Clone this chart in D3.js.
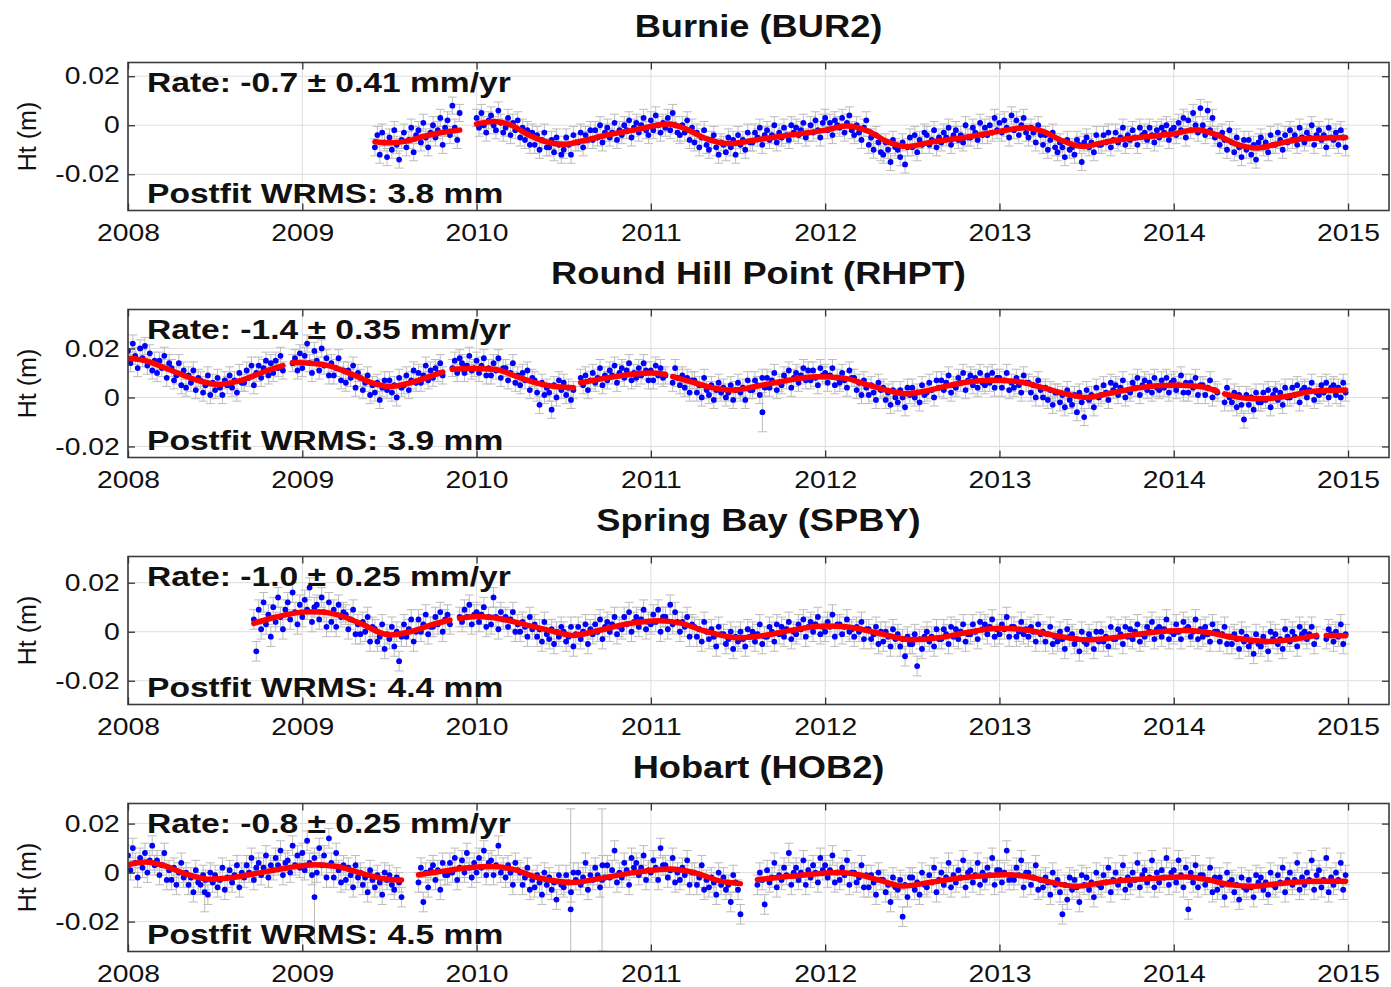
<!DOCTYPE html>
<html>
<head>
<meta charset="utf-8">
<script src="https://cdn.jsdelivr.net/npm/d3@7"></script>
<style>
  body { margin: 0; background: #fff; }
  svg text { font-family: "Liberation Sans", Arial, Helvetica, sans-serif; fill: #111; }
</style>
</head>
<body>
<svg id="chart" width="1391" height="987"></svg>
<script>
// ---- labels / ticks ----
const stationNames = ["Burnie (BUR2)", "Round Hill Point (RHPT)", "Spring Bay (SPBY)", "Hobart (HOB2)"];
const rateLabels = ["Rate: -0.7 \u00b1 0.41 mm/yr", "Rate: -1.4 \u00b1 0.35 mm/yr", "Rate: -1.0 \u00b1 0.25 mm/yr", "Rate: -0.8 \u00b1 0.25 mm/yr"];
const wrmsLabels = ["Postfit WRMS: 3.8 mm", "Postfit WRMS: 3.9 mm", "Postfit WRMS: 4.4 mm", "Postfit WRMS: 4.5 mm"];
const yearTicks = [2008, 2009, 2010, 2011, 2012, 2013, 2014, 2015];
const htTicks = [0.02, 0, -0.02];
const yearRange = [2008, 2015.235];
const htDomains = [[-0.0348, 0.0256], [-0.0245, 0.0359], [-0.0297, 0.0307], [-0.0322, 0.0282]];
const sigmaMm = [3.5, 3.5, 4, 4];   // typical height sigma (mm)

// ---- height residuals, mm, one value every 1/72 yr (6 per month) ----
const sampleStep = 1 / 72;

const bur2Start = 2009 + 5 / 12;
const bur2Ht = [
  // 2009 Jun-Dec
  -9,-4,-12,-3,-7,-13, -5,-10,-2,-8,-14,-6, -3,-9,-6,-1,-11,-4, -2,-7,1,-5,-9,-3, 0,-5,-2,3,-8,-1, 2,-4,8,-1,-6,5, null,null,null,null,null,null,
  // 2010
  3,-1,5,0,-3,2, 4,0,-2,6,1,-3, -1,3,-4,1,-2,2, -5,-1,-6,-2,-8,-3, -8,-4,-10,-6,-3,-9, -9,-6,-11,-5,-8,-12, -10,-5,-8,-12,-4,-7, -7,-3,-9,-4,-6,-2, -6,-2,-5,0,-7,-3, -1,-5,-3,1,-6,-2, -4,0,-2,2,-5,-1, 1,-3,0,3,-2,-4,
  // 2011
  2,-2,4,0,-3,1, -1,3,-2,5,0,-3, -4,0,-3,2,-6,-1, -7,-3,-9,-5,-2,-8, -10,-6,-4,-9,-12,-7, -8,-11,-5,-9,-6,-12, -4,-8,-6,-10,-3,-7, -7,-3,-5,-1,-8,-4, -2,-6,-4,0,-7,-3, -5,-1,-4,-6,0,-3, -1,-4,-2,1,-5,-3, 0,-3,2,-2,-5,1,
  // 2012
  3,-2,1,-4,2,0, -1,3,-3,1,4,-2, -4,0,-3,-6,-1,2, -8,-5,-10,-4,-7,-11, -12,-7,-10,-15,-6,-9, -10,-13,-7,-16,-9,-5, -9,-4,-11,-6,-8,-3, -4,-8,-6,-2,-9,-5, -7,-3,-5,-1,-8,-4, -2,-6,-4,-7,0,-5, -5,-1,-3,-6,1,-4, -1,-4,0,-3,3,-2,
  // 2013
  1,-3,2,-1,-5,4, -2,2,-4,0,3,-3, -5,-1,-3,-7,0,-4, -8,-4,-10,-6,-3,-9, -11,-7,-9,-13,-6,-10, -9,-12,-6,-8,-15,-7, -5,-9,-7,-11,-4,-8, -8,-4,-7,-3,-9,-6, -3,-7,-5,-1,-8,-4, -6,-2,-5,-8,-1,-4, -3,-6,-1,-4,-7,-2, -5,-1,-3,0,-6,-2,
  // 2014
  -1,-4,1,-2,3,-5, 2,-2,5,0,-3,7, 0,-4,6,-2,3,-5, -4,-8,-3,-6,-10,-2, -7,-11,-5,-9,-13,-6, -10,-6,-12,-8,-14,-7, -5,-9,-7,-11,-4,-8, -8,-3,-6,-10,-4,-7, -2,-6,-4,-8,-1,-5, -7,-3,-5,0,-8,-4, -2,-6,-4,-9,-1,-5, -6,-3,-8,-2,-5,-9
];

const rhptStart = 2008;
const rhptHt = [
  // 2008
  19,14,22,17,12,20, 16,21,13,18,11,15, 10,15,12,17,8,14, 12,7,9,14,5,11, 4,9,6,11,3,8, 7,2,5,9,1,6, 3,8,4,1,7,5, 9,4,7,2,10,6, 6,11,8,13,5,10, 13,8,12,15,9,14, 10,15,12,17,11,null, null,null,14,16,11,18,
  // 2009
  12,17,22,14,10,19, 15,11,20,13,16,9, 14,9,12,16,7,11, 6,11,8,13,4,10, 8,3,6,9,1,5, 2,6,-1,4,7,3, 7,2,5,0,8,4, 5,9,3,7,11,6, 10,6,9,13,7,11, 8,12,10,14,9,null, null,null,12,15,10,16, 14,10,13,17,11,12,
  // 2010
  15,10,13,16,9,12, 9,14,11,16,8,12, 12,7,10,14,6,9, 5,10,7,11,3,8, 7,2,-3,6,1,4, 2,-5,5,0,7,3, 6,1,4,-1,3,null, null,8,5,9,3,7, 10,6,8,12,5,9, 7,11,9,13,6,10, 12,8,11,14,7,10, 8,12,9,14,11,7,
  // 2011
  11,7,13,9,12,8, 9,null,null,6,12,8, 5,9,4,8,2,7, 7,2,5,0,8,3, 1,5,-1,3,6,2, 4,0,2,5,-1,3, 6,2,4,-1,7,3, 3,7,5,1,8,4, 8,4,7,10,3,6, 5,9,7,11,4,8, 10,6,9,12,7,11, 7,11,8,5,12,9,
  // 2012
  10,6,9,12,5,8, 6,10,7,4,11,8, 8,3,6,1,7,4, 1,5,2,-1,6,3, 4,-1,2,-3,3,0, -2,3,0,-4,4,1, 4,0,2,-2,5,1, 2,6,3,0,7,4, 7,3,6,9,2,5, 4,8,6,10,3,7, 9,5,8,4,10,6, 5,9,6,10,4,8,
  // 2013
  8,4,7,10,3,6, 4,8,5,2,9,6, 6,2,5,0,7,3, 0,4,-1,3,-3,2, 2,-2,1,-4,3,-1, -3,1,-6,2,-2,-8, 3,-1,1,-4,4,0, 1,5,2,-1,6,3, 5,1,4,7,0,3, 2,6,4,8,1,5, 7,3,6,2,8,4, 3,7,4,8,2,6,
  // 2014
  7,3,5,9,2,6, 2,6,4,8,1,5, 5,1,4,7,0,3, 2,null,null,-2,4,0, -2,2,-4,1,-3,-9, 1,-3,0,-5,2,-2, -2,2,-1,3,-4,1, 3,-1,2,-3,4,0, 0,4,1,5,-2,3, 4,0,3,6,-1,2, 1,5,2,6,0,4, 5,1,4,0,6,2
];

const spbyStart = 2008 + 8 / 12;
const spbyHt = [
  // 2008 Sep-Dec
  null,null,null,null,5,-8, 9,1,12,3,7,-2, 10,4,14,6,1,9, 12,5,16,8,3,11,
  // 2009
  6,13,9,18,4,10, 11,5,14,8,2,12, 4,9,2,11,6,8, 7,1,5,9,-1,3, -1,4,0,6,-4,2, 1,-4,-2,3,-7,-1, -3,2,-6,0,-12,-2, 3,-2,1,5,-4,0, 5,0,3,7,-1,2, 2,6,3,8,0,5, 7,3,null,null,null,6, 4,9,6,11,3,7,
  // 2010
  8,4,7,10,2,6, 3,14,6,1,8,5, 6,2,5,8,0,3, 0,4,2,-2,6,1, 3,-2,1,-4,4,-1, -3,1,-5,0,-2,2, 0,-4,-2,2,-6,-1, 2,-3,0,3,-5,1, -1,3,0,5,-3,2, 4,0,3,6,-1,2, 1,6,3,8,0,4, 6,2,5,9,1,4,
  // 2011
  3,7,4,9,0,6, 6,1,11,3,8,4, 0,4,2,6,-2,3, 2,-2,1,-4,4,0, -3,1,-2,-6,2,-1, -1,-5,-3,0,-7,-2, -4,0,-3,-6,1,-2, 0,-4,-1,3,-5,-2, -2,2,0,-4,3,-1, 2,-2,1,4,-3,0, -1,3,1,5,-2,2, 4,0,3,6,-1,2,
  // 2012
  0,4,2,7,-2,3, 3,-1,2,5,0,1, -2,2,0,4,-3,1, 1,-3,-1,2,-5,0, -4,0,-2,-6,1,-3, -1,-6,-3,-10,-2,-5, -5,-1,-14,-3,-7,-2, 0,-4,-2,-6,1,-3, -3,1,-1,-5,2,-2, 1,-3,0,3,-4,-1, -1,3,0,-3,4,1, 3,-1,2,5,-2,1,
  // 2013
  -1,3,1,6,-2,2, 2,-2,0,4,-1,1, -2,2,0,-4,3,-1, 0,-4,-1,2,-5,-2, -4,0,-3,-7,1,-2, -1,-5,-3,-8,0,-4, -5,-1,-3,-7,0,-4, 0,-4,-2,-6,2,-3, -3,1,-1,-5,2,-2, 1,-3,0,3,-4,-1, -2,2,0,4,-3,1, 2,-2,1,5,-3,0,
  // 2014
  -1,3,0,-3,4,1, 2,-2,0,5,-3,1, -2,2,-1,-4,3,0, 0,-4,-1,2,-5,-2, -5,-1,-3,-7,0,-4, -2,-6,-4,-9,-1,-5, -6,-2,-4,-8,0,-3, -1,-5,-3,-7,1,-2, -4,0,-2,-6,2,-1, 0,-3,-1,2,-5,-2, null,null,null,-3,1,-1, -4,0,-2,3,-5,-1
];

const hob2Start = 2008;
const hob2Ht = [
  // 2008
  7,1,10,4,-2,6, 2,8,0,5,11,3, 5,-1,3,8,-3,1, -3,2,-5,0,4,-2, 0,-5,-2,-8,1,-4, -5,-1,-3,-9,0,-4, -1,-6,-3,2,-7,-2, 1,-4,-1,3,-6,0, -2,3,0,6,-3,2, 4,-1,2,7,-2,3, 1,6,3,9,-1,4, 5,0,11,3,7,2,
  // 2009
  8,1,13,4,-1,6, 0,10,3,7,-2,14, 4,-2,8,1,-4,3, -3,2,-1,-6,3,-2, 0,-5,-2,-8,1,-3, -6,-1,-4,-9,0,-3, -1,-5,-7,-2,-4,-10, null,null,null,null,null,null, -4,2,-12,0,-6,1, 3,-3,1,-7,4,-1, -1,4,0,6,-3,2, 5,0,8,2,-2,4,
  // 2010
  0,6,2,9,-1,4, 5,-1,3,11,0,2, -2,3,0,-5,4,1, 0,-5,-2,2,-7,-3, -6,-1,-4,-9,0,-5, -2,-7,-4,-11,-1,-5, -6,-1,-4,-8,0,-3, 0,-5,-2,4,-7,-1, -3,2,-1,-6,3,-2, 3,-2,1,9,-4,0, -2,4,1,-5,6,2, 4,-1,2,7,-3,1,
  // 2011
  0,5,2,-3,10,3, 3,-2,1,6,-4,0, -3,2,-1,5,-5,0, 0,-5,-2,3,-7,-3, -6,-2,-4,-9,0,-5, -2,-7,-5,-12,-1,-4, -7,-17,null,null,null,null, null,null,-5,0,-3,-13, 1,-4,-2,4,-6,-1, -3,2,-1,8,-5,0, 2,-3,0,5,-5,1, -2,3,0,-4,6,1,
  // 2012
  3,-2,1,7,-4,0, -3,2,-1,5,-5,0, 0,-4,-2,3,-6,-1, -6,-1,-4,-9,0,-3, -3,-8,-5,-12,-2,-6, -7,-3,-18,-5,-10,-2, -2,-7,-4,-9,0,-5, -6,-1,-4,2,-8,-3, 0,-5,-2,4,-6,-1, -4,1,-2,5,-6,0, 1,-4,-1,4,-5,0, -3,2,-1,6,-5,1,
  // 2013
  1,-4,0,9,-3,-1, -3,2,-1,5,-6,0, 0,-5,-2,3,-7,-3, -6,-2,-4,-9,0,-5, -3,-8,-17,-5,-11,-2, -7,-3,-6,-12,-1,-5, -2,-7,-4,-10,0,-5, -6,-1,-4,2,-8,-3, 0,-5,-3,3,-7,-2, -5,0,-3,4,-6,-1, 1,-4,-2,5,-6,0, -4,1,-2,6,-5,0,
  // 2014
  1,-4,5,-1,-6,2, -15,0,-4,3,-6,-1, -1,-5,-3,2,-8,-2, -7,-2,-5,-10,0,-4, -3,-8,-5,-11,-2,-6, -7,-3,-6,-10,-1,-4, -2,-7,-4,-9,0,-5, -6,-1,-4,2,-8,-3, 0,-5,-3,4,-7,-2, -5,0,-3,5,-7,-1, 1,-6,-3,6,-8,-2, -5,0,-3,4,-7,-1
];

// epochs with large uncertainty: [year, ht mm, sigma mm]
const bur2Big = [];
const rhptBig = [[2011.64, -6, 8]];
const spbyBig = [];
const hob2Big = [[2008.44, -8, 8], [2009.07, -10, 18], [2010.54, -15, 41], [2010.72, -3, 29]];

// ---- fitted model (red), knots [year, mm], one array per data span ----
const bur2Fit = [
  [[2009.417,-6.7],[2009.5,-7.2],[2009.6,-6.5],[2009.7,-4.5],[2009.8,-3],[2009.903,-2]],
  [[2010.0,0.5],[2010.1,1.5],[2010.2,0],[2010.3,-4],[2010.4,-6.8],[2010.5,-7.8],[2010.6,-6.5],[2010.75,-4],[2010.9,-2],[2011.1,0.5],[2011.2,-1.5],[2011.3,-5],[2011.45,-7.5],[2011.6,-6],[2011.8,-4],[2012.0,-2],[2012.12,-0.3],[2012.25,-2.5],[2012.35,-6.5],[2012.47,-8.7],[2012.6,-7],[2012.8,-5],[2013.0,-2.5],[2013.15,-1],[2013.25,-2.5],[2013.35,-6],[2013.48,-8.7],[2013.6,-7],[2013.8,-5],[2014.0,-3.5],[2014.13,-1.8],[2014.25,-4],[2014.35,-7.5],[2014.48,-9.3],[2014.6,-7.5],[2014.75,-5.5],[2014.986,-5]]
];
const rhptFit = [
  [[2008.0,16],[2008.1,15],[2008.25,11],[2008.4,7],[2008.52,5.3],[2008.65,7],[2008.8,11],[2008.889,13]],
  [[2008.944,14.3],[2009.05,14],[2009.15,13],[2009.3,9],[2009.42,5.5],[2009.5,4.5],[2009.62,6],[2009.75,9],[2009.806,10.4]],
  [[2009.861,11.5],[2009.97,11.8],[2010.1,11.5],[2010.25,8],[2010.4,5],[2010.556,4]],
  [[2010.597,6],[2010.75,8],[2010.9,9.5],[2011.0,10],[2011.083,9.5]],
  [[2011.125,8.5],[2011.25,6],[2011.35,4],[2011.47,3],[2011.6,4.5],[2011.75,6.5],[2011.95,8.5],[2012.1,8],[2012.25,5],[2012.35,3],[2012.47,1.5],[2012.6,3],[2012.75,5.5],[2012.95,7],[2013.1,6.5],[2013.25,4],[2013.38,1.5],[2013.5,0],[2013.62,1.5],[2013.8,4],[2014.0,5],[2014.15,4.5],[2014.25,2.5]],
  [[2014.292,1.5],[2014.42,-0.3],[2014.52,-0.5],[2014.65,0.5],[2014.8,2.5],[2014.986,3]]
];
const spbyFit = [
  [[2008.722,3.4],[2008.85,6],[2009.0,8],[2009.08,8.2],[2009.2,7],[2009.33,3.5],[2009.5,-1.3],[2009.62,0],[2009.75,3],[2009.847,4.8]],
  [[2009.903,5.4],[2010.0,6.2],[2010.12,5.5],[2010.3,2.5],[2010.45,0],[2010.55,-1.5],[2010.7,0.5],[2010.85,3],[2011.05,4.5],[2011.17,3.5],[2011.3,0.5],[2011.5,-2.5],[2011.65,-1.5],[2011.8,0.5],[2012.0,2.3],[2012.12,2],[2012.3,-0.5],[2012.5,-3.3],[2012.65,-2.5],[2012.8,-0.5],[2013.0,1.4],[2013.12,1],[2013.3,-1.3],[2013.5,-3.3],[2013.65,-2.5],[2013.85,-0.5],[2014.05,0.5],[2014.17,0],[2014.35,-2.5],[2014.55,-4],[2014.7,-3],[2014.819,-1.5]],
  [[2014.875,-1.5],[2014.986,-1.6]]
];
const hob2Fit = [
  [[2008.0,3.2],[2008.1,4.3],[2008.2,3],[2008.33,-0.5],[2008.47,-2.7],[2008.6,-2],[2008.8,0.5],[2009.0,2.8],[2009.07,3.2],[2009.2,2.5],[2009.35,-0.5],[2009.5,-2.8],[2009.569,-3]],
  [[2009.667,-0.9],[2009.8,0.5],[2009.95,2],[2010.09,2.5],[2010.2,1.5],[2010.35,-2],[2010.55,-4],[2010.7,-2.5],[2010.9,0],[2011.11,1.5],[2011.25,0],[2011.4,-3.5],[2011.514,-4.5]],
  [[2011.611,-2.9],[2011.8,-1.5],[2012.08,0],[2012.2,-1],[2012.33,-3.5],[2012.45,-5.5],[2012.6,-4],[2012.8,-2],[2013.04,-0.9],[2013.15,-1.5],[2013.3,-4],[2013.44,-5.6],[2013.6,-4],[2013.85,-2.5],[2014.07,-1.8],[2014.2,-3],[2014.33,-5],[2014.45,-5.6],[2014.6,-4.5],[2014.8,-3.5],[2014.986,-3.5]]
];

// ---- build station table ----
const stations = [
  { start: bur2Start, ht: bur2Ht, big: bur2Big, fit: bur2Fit },
  { start: rhptStart, ht: rhptHt, big: rhptBig, fit: rhptFit },
  { start: spbyStart, ht: spbyHt, big: spbyBig, fit: spbyFit },
  { start: hob2Start, ht: hob2Ht, big: hob2Big, fit: hob2Fit }
];

var svg = d3.select("#chart");
var left = 128, right = 1389, panelH = 148;
var panelTops = [62.5, 309.5, 556.5, 803.5];
var textStretch = 1.18;

var x = d3.scaleLinear().domain(yearRange).range([left, right]);

function stretchText(g, px, py, str, size, weight, anchor, sx) {
  return g.append("text")
    .attr("transform", "translate(" + px + "," + py + ") scale(" + sx + ",1)")
    .attr("text-anchor", anchor)
    .style("font-size", size + "px")
    .style("font-weight", weight)
    .text(str);
}

stations.forEach(function (s, i) {
  var top = panelTops[i], bot = top + panelH;
  var y = d3.scaleLinear().domain(htDomains[i]).range([bot, top]);
  var g = svg.append("g");

  svg.append("clipPath").attr("id", "clip" + i)
    .append("rect").attr("x", left).attr("y", top).attr("width", right - left).attr("height", panelH);

  // grid
  g.selectAll(".vgrid").data(yearTicks).join("line")
    .attr("x1", d => x(d)).attr("x2", d => x(d)).attr("y1", top).attr("y2", bot)
    .attr("stroke", "#dedede").attr("stroke-width", 1);
  g.selectAll(".hgrid").data(htTicks).join("line")
    .attr("x1", left).attr("x2", right).attr("y1", d => y(d)).attr("y2", d => y(d))
    .attr("stroke", "#dedede").attr("stroke-width", 1);

  var pts = [];
  s.ht.forEach(function (v, k) {
    if (v != null) pts.push({ t: s.start + k * sampleStep, v: v, sd: sigmaMm[i] });
  });
  s.big.forEach(function (b) { pts.push({ t: b[0], v: b[1], sd: b[2] }); });

  var plot = g.append("g").attr("clip-path", "url(#clip" + i + ")");

  // error bars (grey, capped)
  var eb = d3.path();
  pts.forEach(function (p) {
    var px = x(p.t), y0 = y((p.v - p.sd) / 1000), y1 = y((p.v + p.sd) / 1000);
    eb.moveTo(px, y0); eb.lineTo(px, y1);
    eb.moveTo(px - 4.5, y0); eb.lineTo(px + 4.5, y0);
    eb.moveTo(px - 4.5, y1); eb.lineTo(px + 4.5, y1);
  });
  plot.append("path").attr("d", eb.toString())
    .attr("fill", "none").attr("stroke", "#bcbcbc").attr("stroke-width", 1);

  plot.selectAll(".dot").data(pts).join("circle")
    .attr("cx", d => x(d.t)).attr("cy", d => y(d.v / 1000)).attr("r", 2.9)
    .attr("fill", "#0000ff");

  var line = d3.line().x(d => x(d[0])).y(d => y(d[1] / 1000)).curve(d3.curveMonotoneX);
  plot.selectAll(".fit").data(s.fit).join("path")
    .attr("d", line).attr("fill", "none").attr("stroke", "#ff0000")
    .attr("stroke-width", 5.5).attr("stroke-linecap", "round");

  // frame
  g.append("rect").attr("x", left).attr("y", top).attr("width", right - left).attr("height", panelH)
    .attr("fill", "none").attr("stroke", "#3c3c3c").attr("stroke-width", 1.6);

  // axes with inward ticks
  var xb = g.append("g").attr("transform", "translate(0," + bot + ")")
    .call(d3.axisBottom(x).tickValues(yearTicks).tickSize(-7).tickPadding(13).tickFormat(d3.format("d")));
  var xt = g.append("g").attr("transform", "translate(0," + top + ")")
    .call(d3.axisTop(x).tickValues(yearTicks).tickSize(-7).tickFormat(""));
  var yl = g.append("g").attr("transform", "translate(" + left + ",0)")
    .call(d3.axisLeft(y).tickValues(htTicks).tickSize(-7).tickPadding(7)
      .tickFormat(d => d === 0 ? "0" : d.toFixed(2)));
  var yr = g.append("g").attr("transform", "translate(" + right + ",0)")
    .call(d3.axisRight(y).tickValues(htTicks).tickSize(-7).tickFormat(""));
  [xb, xt, yl, yr].forEach(function (a) {
    a.select(".domain").remove();
    a.selectAll(".tick line").attr("stroke", "#333").attr("stroke-width", 1.3);
    a.selectAll("text").attr("font-family", null).attr("fill", "#111")
      .style("font-size", "24px").attr("transform", "scale(" + textStretch + ",1)");
  });

  // titles and annotations
  stretchText(svg, (left + right) / 2, top - 25.5, stationNames[i], 31, "bold", "middle", 1.17);
  stretchText(g, 147, top + 29, rateLabels[i], 28, "bold", "start", 1.2);
  stretchText(g, 147, bot - 7.5, wrmsLabels[i], 28, "bold", "start", 1.2);

  g.append("text")
    .attr("transform", "translate(36," + (top + panelH / 2) + ") rotate(-90)")
    .attr("text-anchor", "middle")
    .style("font-size", "25px")
    .text("Ht (m)");
});
</script>
</body>
</html>
